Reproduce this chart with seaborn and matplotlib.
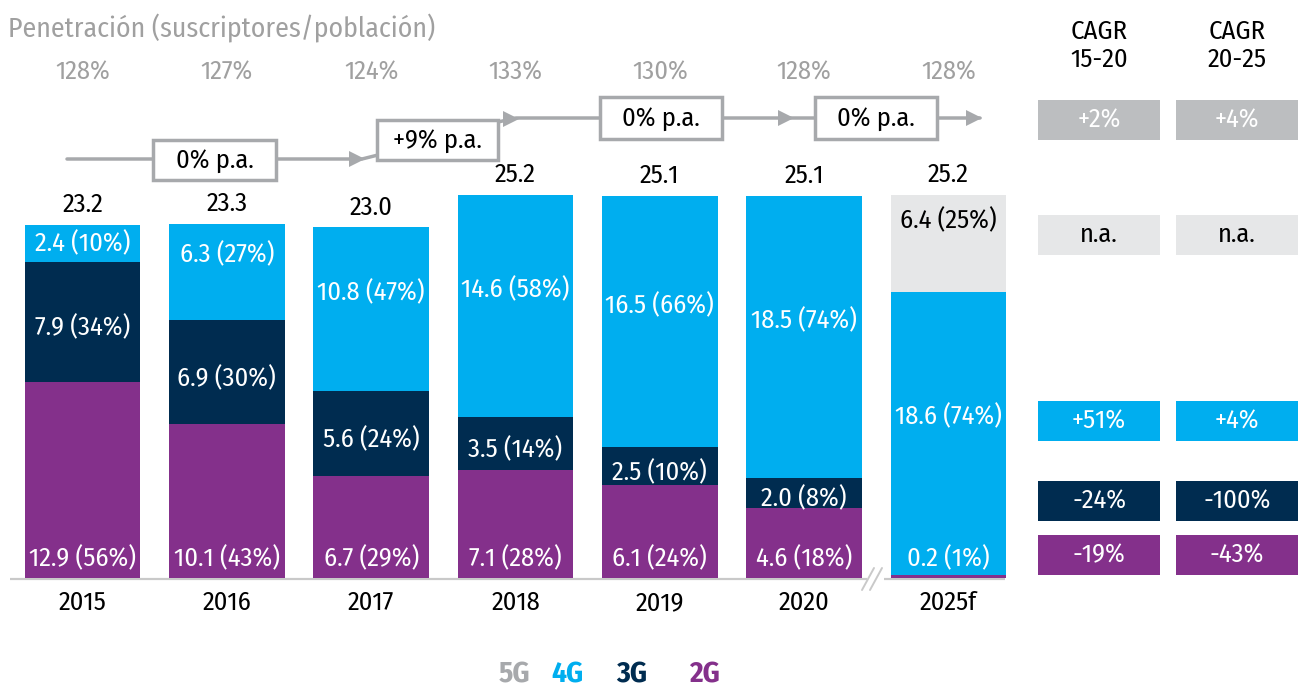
import numpy as np
import matplotlib
matplotlib.use("Agg")
import matplotlib.pyplot as plt
from matplotlib.patches import Rectangle
import seaborn as sns

# ---- data -------------------------------------------------------------
years = ["2015", "2016", "2017", "2018", "2019", "2020", "2025f"]
subs_2g = [12.9, 10.1, 6.7, 7.1, 6.1, 4.6, 0.2]
subs_3g = [7.9, 6.9, 5.6, 3.5, 2.5, 2.0, 0.0]
subs_4g = [2.4, 6.3, 10.8, 14.6, 16.5, 18.5, 18.6]
subs_5g = [0.0, 0.0, 0.0, 0.0, 0.0, 0.0, 6.4]
share_2g = [56, 43, 29, 28, 24, 18, 1]
share_3g = [34, 30, 24, 14, 10, 8, 0]
share_4g = [10, 27, 47, 58, 66, 74, 74]
share_5g = [0, 0, 0, 0, 0, 0, 25]
totals = [23.2, 23.3, 23.0, 25.2, 25.1, 25.1, 25.2]
penetration = ["128%", "127%", "124%", "133%", "130%", "128%", "128%"]
growth_labels = ["0% p.a.", "+9% p.a.", "0% p.a.", "0% p.a."]
cagr_headers = ["CAGR\n15-20", "CAGR\n20-25"]
cagr_total = ["+2%", "+4%"]
cagr_5g = ["n.a.", "n.a."]
cagr_4g = ["+51%", "+4%"]
cagr_3g = ["-24%", "-100%"]
cagr_2g = ["-19%", "-43%"]
legend_labels = ["5G", "4G", "3G", "2G"]

# ---- style ------------------------------------------------------------
C2G = "#84308B"
C3G = "#002C50"
C4G = "#00AEEF"
C5G = "#E6E7E8"
CTOT = "#BCBEC0"
GREY_TXT = "#A0A0A0"
LINE_GREY = "#A7A9AC"

sns.set_theme(style="white")
plt.rcParams["font.family"] = ["Fira Sans Condensed", "IBM Plex Sans Condensed",
                               "DejaVu Sans"]

W, H = 1300, 692
fig = plt.figure(figsize=(W / 100, H / 100), dpi=100)
ax = fig.add_axes([0, 0, 1, 1])

# layout helpers: pixel position -> data position
X0, DX = 82.5, 144.33      # centre of first bar, bar spacing (px)
Y0, DY = 578.0, 15.2       # baseline (px), px per million


def px(x):
    return (x - X0) / DX


def py(y):
    return (Y0 - y) / DY


# ---- stacked bars -----------------------------------------------------
layers = [(subs_2g, C2G), (subs_3g, C3G), (subs_4g, C4G), (subs_5g, C5G)]
bottom = np.zeros(len(years))
for vals, col in layers:
    sns.barplot(x=years, y=vals, order=years, color=col, saturation=1,
                bottom=bottom.copy(), width=0.8, linewidth=0, ax=ax, zorder=3)
    bottom += np.array(vals)

ax.set_xlim(px(0), px(W))
ax.set_ylim(py(H), py(0))
ax.axis("off")

LBL = 19
# segment labels
for i in range(len(years)):
    v2, v3, v4, v5 = subs_2g[i], subs_3g[i], subs_4g[i], subs_5g[i]
    ax.text(i, 1.3, f"{v2:.1f} ({share_2g[i]}%)", ha="center", va="center",
            color="white", fontsize=LBL, zorder=5)
    if v3 > 0:
        ax.text(i, v2 + v3 / 2 - 0.4, f"{v3:.1f} ({share_3g[i]}%)", ha="center",
                va="center", color="white", fontsize=LBL, zorder=5)
    if v4 > 0:
        off = 1.1 if v4 > 5 else 0.0
        ax.text(i, v2 + v3 + v4 / 2 + off, f"{v4:.1f} ({share_4g[i]}%)",
                ha="center", va="center", color="white", fontsize=LBL, zorder=5)
    if v5 > 0:
        ax.text(i, v2 + v3 + v4 + v5 / 2 + 1.5, f"{v5:.1f} ({share_5g[i]}%)",
                ha="center", va="center", color="black", fontsize=LBL, zorder=5)
    # total on top
    ax.text(i, totals[i] + 1.35, f"{totals[i]:.1f}", ha="center", va="center",
            color="black", fontsize=LBL, zorder=5)
    # year label
    ax.text(i, py(603), years[i], ha="center", va="center", color="black",
            fontsize=LBL)
    # penetration row
    ax.text(i, py(72), penetration[i], ha="center", va="center",
            color=GREY_TXT, fontsize=LBL)

# title
ax.text(px(8), py(28), "Penetración (suscriptores/población)", ha="left",
        va="center", color=GREY_TXT, fontsize=20)

# baseline with axis break
ax.plot([px(10), px(1005)], [py(579), py(579)], color="#C9C9C9", lw=1.6,
        zorder=2, solid_capstyle="butt")
ax.add_patch(Rectangle((px(867), py(584)), px(884) - px(867), py(574) - py(584),
                       facecolor="white", edgecolor="none", zorder=2.5))
for x0 in (862, 870):
    ax.plot([px(x0), px(x0 + 12)], [py(590), py(568)], color="#C9C9C9",
            lw=1.4, zorder=2.6)

# growth path with arrows
ax.plot([px(67), px(362), px(378)], [py(159), py(159), py(155)],
        color=LINE_GREY, lw=2.5, zorder=1, solid_joinstyle="miter")
ax.plot([px(498), px(516), px(980)], [py(122), py(118), py(118)],
        color=LINE_GREY, lw=2.5, zorder=1, solid_joinstyle="miter")
for xa, ya in [(357, 159), (511, 118.5), (786, 118), (974, 118)]:
    ax.plot(px(xa), py(ya), marker=">", markersize=11, color=LINE_GREY,
            markeredgewidth=0, zorder=1.5)

boxes = [(153, 276, 140, 180), (377, 498, 120, 160),
         (600, 722, 97, 139), (815, 937, 97, 139)]
for (x1, x2, y1, y2), txt in zip(boxes, growth_labels):
    ax.add_patch(Rectangle((px(x1), py(y2)), px(x2) - px(x1), py(y1) - py(y2),
                           facecolor="white", edgecolor=LINE_GREY, lw=2.5,
                           zorder=4))
    ax.text(px((x1 + x2) / 2), py((y1 + y2) / 2 + 1), txt, ha="center",
            va="center", color="black", fontsize=LBL, zorder=5)

# CAGR table
cols = [(1038, 1160), (1176, 1298)]
rows = [(cagr_total, CTOT, "white", 120), (cagr_5g, C5G, "black", 235),
        (cagr_4g, C4G, "white", 421), (cagr_3g, C3G, "white", 501),
        (cagr_2g, C2G, "white", 555)]
for j, (x1, x2) in enumerate(cols):
    ax.text(px((x1 + x2) / 2), py(46), cagr_headers[j], ha="center",
            va="center", color="black", fontsize=LBL, linespacing=1.15)
    for vals, fc, tc, yc in rows:
        ax.add_patch(Rectangle((px(x1), py(yc + 20)), px(x2) - px(x1),
                               py(yc - 20) - py(yc + 20), facecolor=fc,
                               edgecolor="none", zorder=3))
        ax.text(px((x1 + x2) / 2), py(yc), vals[j], ha="center", va="center",
                color=tc, fontsize=LBL, zorder=5)

# legend
for lab, col, xc in zip(legend_labels, [LINE_GREY, C4G, C3G, C2G],
                        [515, 568, 632, 704]):
    ax.text(px(xc), py(675), lab, ha="center", va="center", color=col,
            fontsize=21, fontweight="bold")

fig.savefig("out.png", dpi=100)
